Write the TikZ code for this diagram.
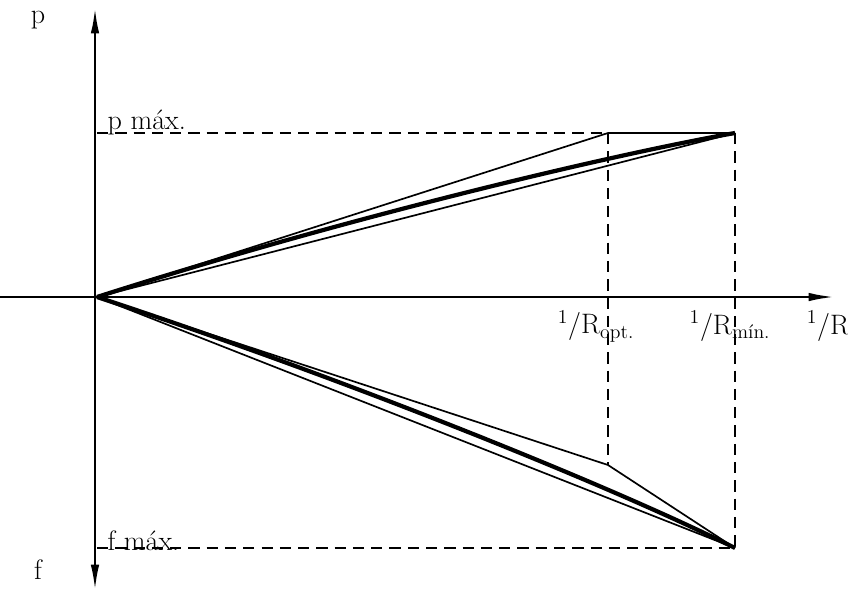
\documentclass[tikz,border=0pt]{standalone}
\usetikzlibrary{arrows.meta}
\begin{document}
\begin{tikzpicture}[x=0.025cm, y=-0.025cm, font=\fontsize{20}{22}\selectfont,
    axis/.style={line width=1.6pt},
    guide/.style={line width=1.2pt, dash pattern=on 8pt off 5pt},
    lin/.style={line width=1.2pt},
    curv/.style={line width=3pt},
    lbl/.style={inner sep=1pt}
]
    \useasboundingbox (0,0) rectangle (848,594);
    % Axes
    \coordinate (O)  at (97,297);
    \coordinate (pt) at (95,8);
    \coordinate (pb) at (95,590);
    \coordinate (xl) at (0,297);
    \coordinate (xr) at (834,297);
    \draw[axis, {Latex[length=18pt,width=6pt]}-{Latex[length=18pt,width=6pt]}] (pb) -- (pt);
    \draw[axis, -{Latex[length=18pt,width=6pt]}] (xl) -- (xr);

    % Corner points
    \coordinate (pm)  at (97,133);
    \coordinate (fm)  at (97,548);
    \coordinate (ko)  at (608,133);
    \coordinate (km)  at (735,133);
    \coordinate (ku)  at (608,465);
    \coordinate (kl)  at (735,548);

    % Dashed guides
    \draw[guide] (pm) -- (ko);
    \draw[guide] (fm) -- (kl);
    \draw[guide] (ko) -- (ku);
    \draw[guide] (km) -- (kl);

    % Upper branch
    \draw[lin] (O) -- (ko) -- (km);
    \draw[lin] (O) -- (km);
    \draw[curv] (O) .. controls (350,216) and (620,153) .. (km);

    % Lower branch
    \draw[lin] (O) -- (ku) -- (kl);
    \draw[lin] (O) -- (kl);
    \draw[curv] (O) .. controls (350,380) and (620,490) .. (kl);

    % Labels
    \node[lbl] (p)   at (38,20)  {p};
    \node[lbl] (f)   at (38,570) {f};
    \node[lbl, anchor=south west] (pmax) at (106,137) {p máx.};
    \node[lbl, anchor=south west] (fmax) at (106,552) {f máx.};
    \node[lbl] (ropt) at (596,326) {\textsuperscript{1}/R\textsubscript{opt.}};
    \node[lbl] (rmin) at (730,326) {\textsuperscript{1}/R\textsubscript{mín.}};
    \node[lbl] (rinv) at (828,326) {\textsuperscript{1}/R};
\end{tikzpicture}
\end{document}
